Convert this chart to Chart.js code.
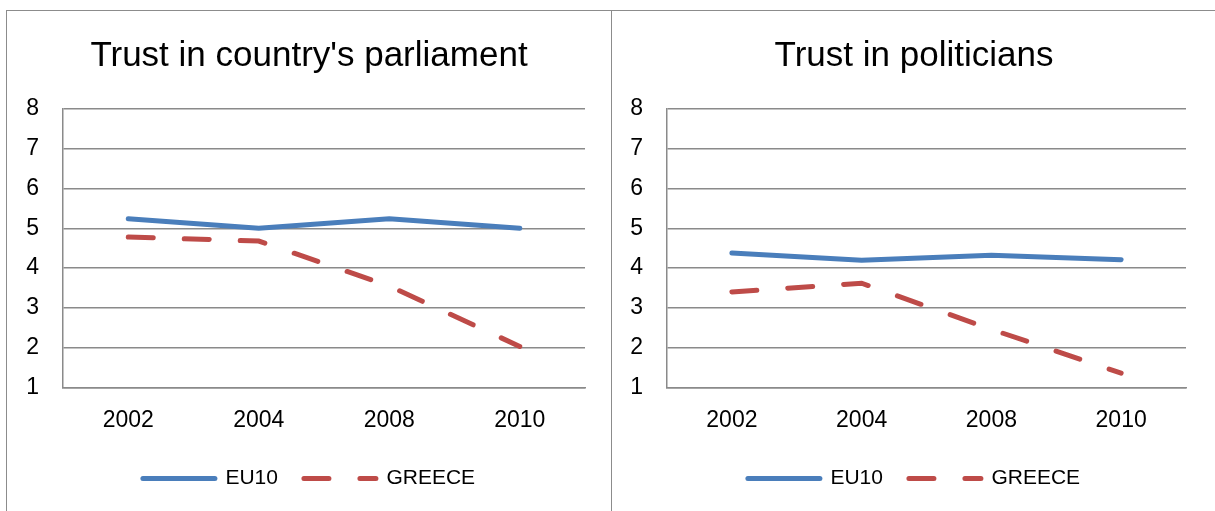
<!DOCTYPE html>
<html>
<head>
<meta charset="utf-8">
<script src="https://cdn.jsdelivr.net/npm/chart.js@4"></script>
<style>
  html, body { margin: 0; padding: 0; background: #fff; }
  body { width: 1215px; height: 511px; overflow: hidden; position: relative; }
  .box { position: absolute; top: 10px; border: 1.5px solid #8c8c8c; background: #fff; }
  #boxLeft { left: 6px; width: 604px; height: 510px; }
  #boxRight { left: 611.5px; width: 610px; height: 510px; border-left: none; }
  .box canvas { position: absolute; left: 0; top: 0; }
</style>
</head>
<body>
<div class="box" id="boxLeft"><canvas id="chart_1" width="604" height="500"></canvas></div>
<div class="box" id="boxRight"><canvas id="chart_2" width="604" height="500"></canvas></div>
<script>
// survey years on the x axis
const years = ['2002', '2004', '2008', '2010'];
const yTicks = [1, 2, 3, 4, 5, 6, 7, 8];

// trust in country's parliament
const parliamentEU10 = [5.24, 5.0, 5.24, 5.0];
const parliamentGreece = [4.78, 4.68, 3.55, 2.03];

// trust in politicians
const politiciansEU10 = [4.38, 4.2, 4.32, 4.21];
const politiciansGreece = [3.4, 3.62, 2.46, 1.36];

const FONT = '"Liberation Sans", Arial, sans-serif';
const BLUE = '#4a7ebb';
const RED = '#be4b48';
const GRID = '#8a8a8a';

Chart.defaults.font.family = FONT;
Chart.defaults.color = '#000';

// legend samples should look like the lines themselves (width, dash, caps)
function lineLabels(chart) {
    let items = Chart.defaults.plugins.legend.labels.generateLabels(chart);
    return items.map((item) => {
        let ds = chart.data.datasets[item.datasetIndex];
        item.lineDash = ds.borderDash || [];
        item.lineWidth = ds.borderWidth;
        item.lineCap = 'round';
        item.strokeStyle = ds.borderColor;
        item.fillStyle = ds.borderColor;
        return item;
    });
}

function makeChart(id, title, eu, gr, axisWidth, rightPad) {
    new Chart(id, {
        type: 'line',
        data: {
            labels: years,
            datasets: [
                { label: 'EU10', data: eu, borderColor: BLUE, backgroundColor: BLUE,
                  borderWidth: 5, borderCapStyle: 'round', pointRadius: 0, tension: 0 },
                { label: 'GREECE', data: gr, borderColor: RED, backgroundColor: RED,
                  borderWidth: 5, borderCapStyle: 'round', borderDash: [25, 31],
                  pointRadius: 0, tension: 0 },
            ],
        },
        options: {
            responsive: false,
            animation: { duration: 0 },
            layout: { padding: { left: 0, right: 0, top: 24, bottom: 12 } },
            plugins: {
                title: {
                    display: true, text: title, color: '#000',
                    font: { size: 35, weight: 'normal' },
                    padding: { top: 0, bottom: 32 },
                },
                legend: {
                    position: 'bottom',
                    labels: {
                        usePointStyle: true, pointStyle: 'line', pointStyleWidth: 72,
                        boxWidth: 72, boxHeight: 5, padding: 26,
                        font: { size: 21 },
                        generateLabels: lineLabels,
                    },
                },
                tooltip: { enabled: false },
            },
            scales: {
                x: {
                    offset: true,
                    afterFit: (s) => { s.height = s.height - 11; },
                    grid: { display: false, drawTicks: false },
                    border: { color: GRID, width: 1.5 },
                    ticks: { font: { size: 23 }, padding: 19 },
                },
                y: {
                    min: 1, max: 8,
                    afterFit: (s) => { s.width = axisWidth; },
                    afterBuildTicks: (s) => { s.ticks = yTicks.map(v => ({ value: v })); },
                    grid: { color: GRID, lineWidth: 1.5, drawTicks: false },
                    border: { color: GRID, width: 1.5 },
                    ticks: { font: { size: 23 }, padding: 24 },
                },
                // empty axis on the right, only keeps a margin beside the plot
                // so the title and legend stay centred on the whole box
                margin: {
                    type: 'linear', position: 'right',
                    afterFit: (s) => { s.width = rightPad; },
                    grid: { display: false, drawTicks: false },
                    border: { display: false },
                    ticks: { display: false },
                },
            },
        },
    });
}

makeChart('chart_1', "Trust in country's parliament", parliamentEU10, parliamentGreece, 56, 26);
makeChart('chart_2', 'Trust in politicians', politiciansEU10, politiciansGreece, 55, 30);
</script>
</body>
</html>
